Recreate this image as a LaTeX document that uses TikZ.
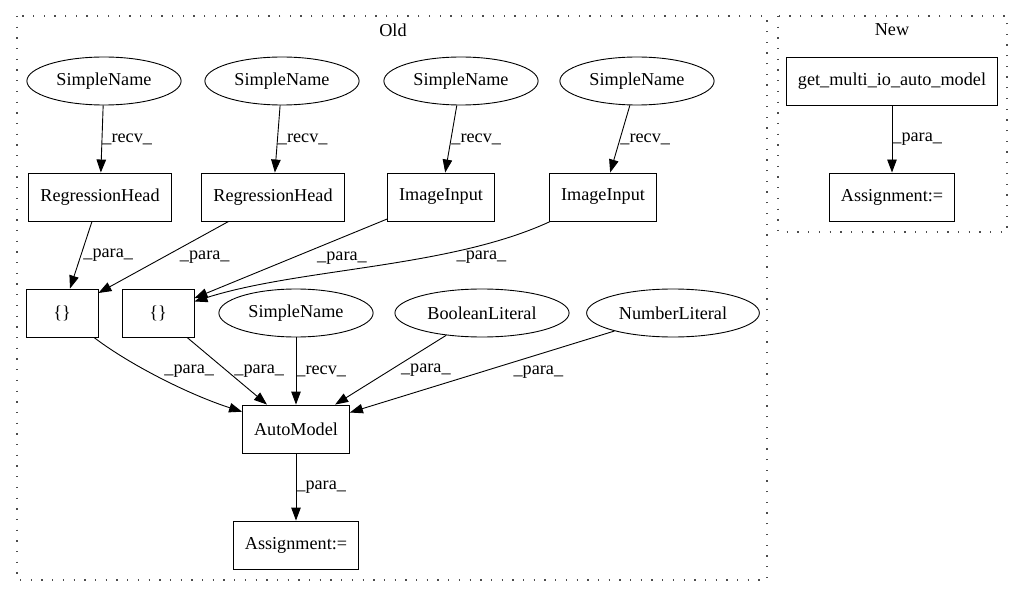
\documentclass[tikz,border=0pt]{standalone}
\usepackage{fontspec}
\setmainfont{Liberation Serif}
\usetikzlibrary{shapes.geometric, arrows.meta}
\newcommand{\gvfont}{\fontsize{18.2}{22}\selectfont}

\begin{document}
\begin{tikzpicture}[x=1pt, y=-1pt, node distance=116pt]
	\tikzstyle{leaf} = [ellipse, minimum width=0pt, minimum height=48pt, inner xsep=7pt, text centered, draw=black, line width=0.9pt, font=\gvfont]
	\tikzstyle{call} = [rectangle, minimum width=72pt, minimum height=48pt, inner xsep=11.5pt, text centered, draw=black, line width=0.9pt, font=\gvfont]
	\tikzstyle{arrow} = [line width=0.9pt, ->, >={Triangle[length=13pt, width=9.5pt]}]
	\tikzstyle{elabel} = [font=\gvfont, inner sep=0pt, anchor=west]
	\tikzstyle{cluster} = [line width=1.3pt, dash pattern=on 1.3pt off 9.4pt, gray!60!black]
	\useasboundingbox (0,0) rectangle (1031,596);
	% clusters
	\draw [cluster] (17,16) rectangle (767,580);
	\draw [cluster] (778,16) rectangle (1007,232);
	\node (old) [font=\gvfont] at (393,30) {Old};
	\node (new) [font=\gvfont] at (892,30) {New};
	% old
	\node (sn1) [leaf] at (104,81) {SimpleName};
	\node (sn2) [leaf] at (282,81) {SimpleName};
	\node (sn3) [leaf] at (461,81) {SimpleName};
	\node (sn4) [leaf] at (637,81) {SimpleName};
	\node (rh1) [call, below of=sn1, xshift=-4pt] {RegressionHead};
	\node (rh2) [call, below of=sn2, xshift=-9pt] {RegressionHead};
	\node (ii1) [call, below of=sn3, xshift=-20pt] {ImageInput};
	\node (ii2) [call, below of=sn4, xshift=-34pt] {ImageInput};
	\node (br1) [call, below of=rh1, xshift=-38pt] {\{\}};
	\node (br2) [call, below of=rh2, xshift=-115pt] {\{\}};
	\node (sn5) [leaf] at (296,313) {SimpleName};
	\node (bl) [leaf] at (482,313) {BooleanLiteral};
	\node (nl) [leaf] at (673,313) {NumberLiteral};
	\node (am) [call, below of=sn5] {AutoModel};
	\node (asg) [call, below of=am] {Assignment:=};
	% new
	\node (gm) [call] at (892,81) {get\_multi\_io\_auto\_model};
	\node (asg2) [call, below of=gm] {Assignment:=};
	\draw [arrow] (sn1) -- node[elabel] {\_recv\_} (rh1);
	\draw [arrow] (sn2) -- node[elabel] {\_recv\_} (rh2);
	\draw [arrow] (sn3) -- node[elabel] {\_recv\_} (ii1);
	\draw [arrow] (sn4) -- node[elabel] {\_recv\_} (ii2);
	\draw [arrow] (rh1) -- node[elabel, xshift=2pt] {\_para\_} (br1);
	\draw [arrow] (rh2) -- node[elabel, xshift=16pt] {\_para\_} (br1);
	\draw [arrow] (ii1) -- node[elabel, xshift=26pt] {\_para\_} (br2);
	\draw [arrow] (ii2) .. controls (450,268) and (300,268) .. node[elabel, pos=0.25, xshift=-11pt, yshift=-8pt] {\_para\_} (br2);
	\draw [arrow] (br1) .. controls (130,365) and (190,395) .. node[elabel, xshift=2pt, yshift=7pt] {\_para\_} (am);
	\draw [arrow] (br2) -- node[elabel, xshift=7pt] {\_para\_} (am);
	\draw [arrow] (sn5) -- node[elabel] {\_recv\_} (am);
	\draw [arrow] (bl) -- node[elabel, xshift=10pt] {\_para\_} (am);
	\draw [arrow] (nl) -- node[elabel, xshift=31pt] {\_para\_} (am);
	\draw [arrow] (am) -- node[elabel] {\_para\_} (asg);
	\draw [arrow] (gm) -- node[elabel] {\_para\_} (asg2);
\end{tikzpicture}
\end{document}
